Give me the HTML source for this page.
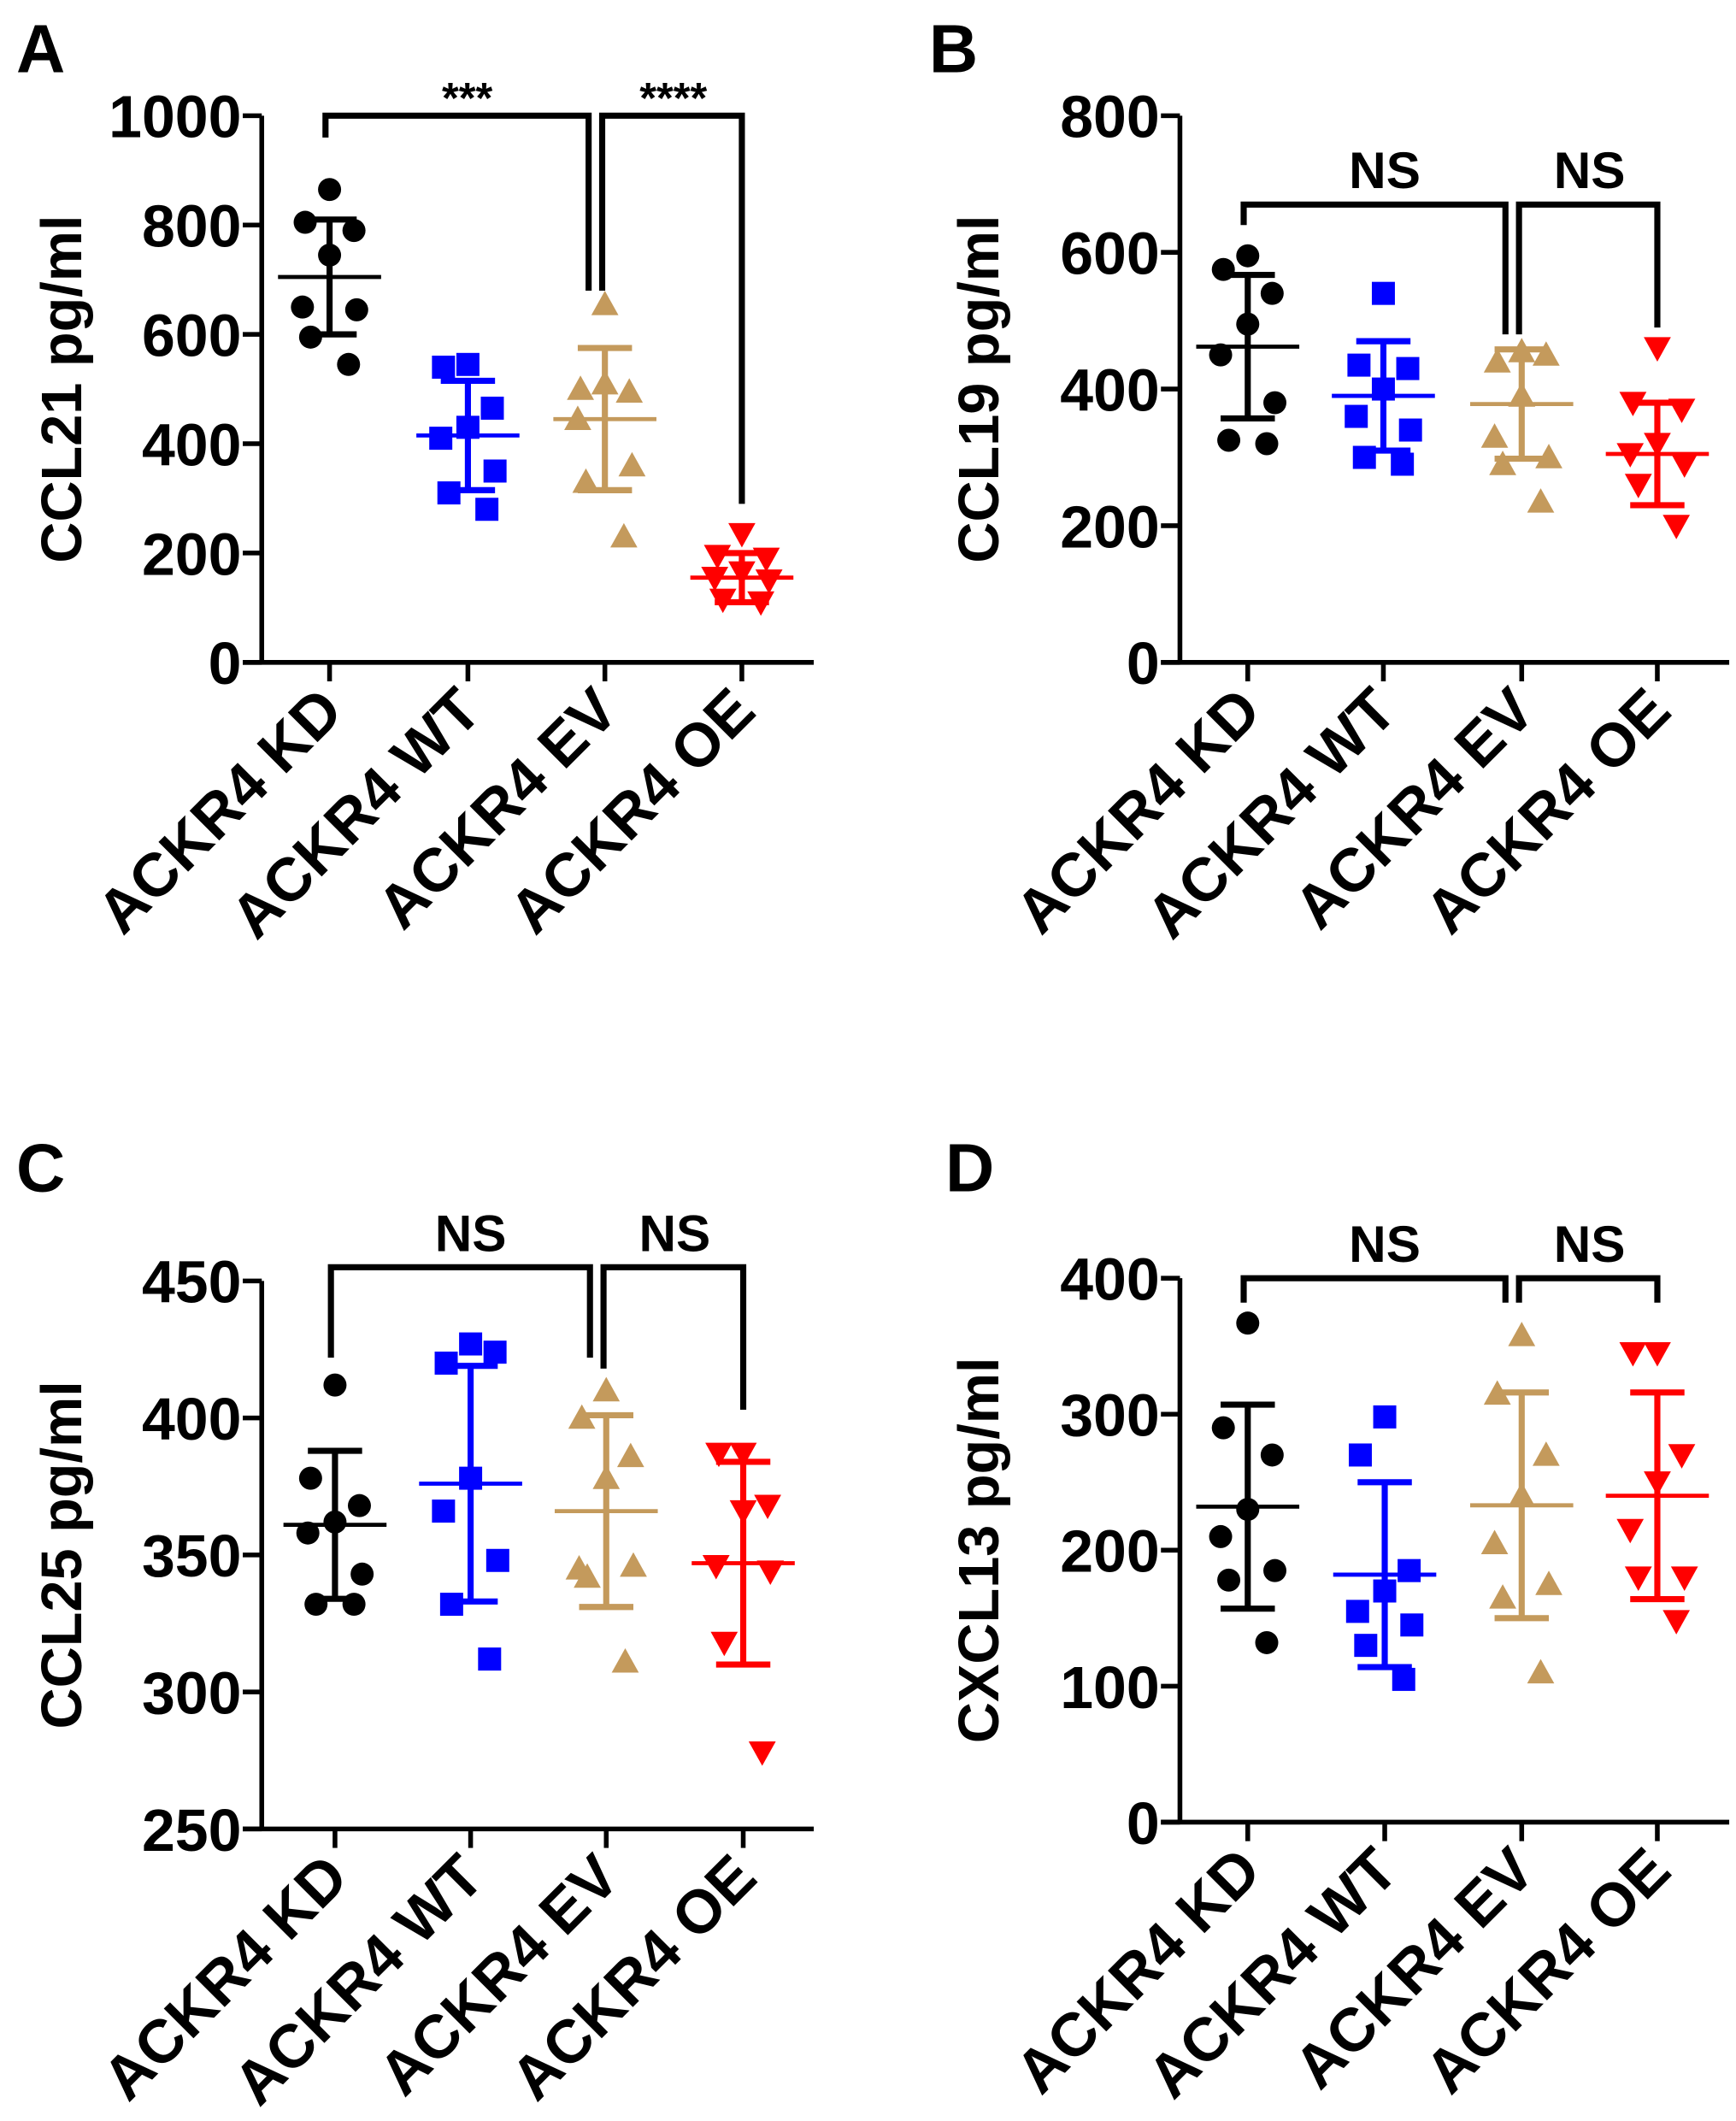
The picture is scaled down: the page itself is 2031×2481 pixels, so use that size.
<!DOCTYPE html>
<html><head><meta charset="utf-8"><style>
html,body{margin:0;padding:0;background:#fff}
svg{display:block}
text{font-family:"Liberation Sans",Arial,sans-serif;font-weight:bold;fill:#000}
</style></head><body>
<svg id="fig" width="2031" height="2481" viewBox="0 0 1280 1563" xmlns="http://www.w3.org/2000/svg"></svg>
<script>
const categories = ["ACKR4 KD","ACKR4 WT","ACKR4 EV","ACKR4 OE"];
const colors = ["#000000","#0000ff","#c49a5c","#ff0000"];
const shapes = ["circle","square","triangle","invtriangle"];
// Panel A
const aTicks = [0,200,400,600,800,1000];
const aKD = [865,805,790,745,650,645,595,545];
const aWT = [545,540,465,430,410,350,310,280];
const aEV = [655,500,495,510,445,360,330,230];
const aOE = [235,195,190,165,155,150,115,110];
const aMean = [705,415,445,155];
const aSD = [105,100,130,45];
const aSig = ["***","****"];
const aBracketTop = 1000;
const aBracketEnds = [960,680,680,290];
// Panel B
const bTicks = [0,200,400,600,800];
const bKD = [595,575,540,495,450,380,325,320];
const bWT = [540,435,430,400,360,340,300,290];
const bEV = [455,440,450,390,330,300,290,235];
const bOE = [460,380,370,320,305,290,260,200];
const bMean = [462,390,378,305];
const bSD = [105,80,80,75];
const bSig = ["NS","NS"];
const bBracketTop = 670;
const bBracketEnds = [640,480,480,490];
// Panel C
const cTicks = [250,300,350,400,450];
const cKD = [412,378,368,362,358,343,332,332];
const cWT = [427,420,424,378,366,348,332,312];
const cEV = [410,400,386,378,345,346,342,311];
const cOE = [387,387,368,366,346,344,318,278];
const cMean = [361,376,366,347];
const cSD = [27,43,35,37];
const cSig = ["NS","NS"];
const cBracketTop = 455;
const cBracketEnds = [422,422,418,403];
// Panel D
const dTicks = [0,100,200,300,400];
const dKD = [367,290,270,230,210,185,178,132];
const dWT = [298,270,185,170,155,145,130,105];
const dEV = [358,315,270,240,205,175,165,110];
const dOE = [345,345,270,250,215,180,180,148];
const dMean = [232,182,233,240];
const dSD = [75,68,83,76];
const dSig = ["NS","NS"];
const dBracketTop = 400;
const dBracketEnds = [382,382,382,382];

const panels = [
 {id:"a",letter:"A",ytitle:"CCL21 pg/ml",ticks:aTicks,series:[aKD,aWT,aEV,aOE],mean:aMean,sd:aSD,sig:aSig,btop:aBracketTop,bends:aBracketEnds,ax:193,y0:488,y1:85,xs:[243,345,446,547],xend:600,lx:12,ly:53,tx:60},
 {id:"b",letter:"B",ytitle:"CCL19 pg/ml",ticks:bTicks,series:[bKD,bWT,bEV,bOE],mean:bMean,sd:bSD,sig:bSig,btop:bBracketTop,bends:bBracketEnds,ax:870,y0:488,y1:85,xs:[920,1020,1122,1222],xend:1275,lx:685,ly:53,tx:736},
 {id:"c",letter:"C",ytitle:"CCL25 pg/ml",ticks:cTicks,series:[cKD,cWT,cEV,cOE],mean:cMean,sd:cSD,sig:cSig,btop:cBracketTop,bends:cBracketEnds,ax:193,y0:1348,y1:944,xs:[247,347,447,548],xend:600,lx:12,ly:878,tx:60},
 {id:"d",letter:"D",ytitle:"CXCL13 pg/ml",ticks:dTicks,series:[dKD,dWT,dEV,dOE],mean:dMean,sd:dSD,sig:dSig,btop:dBracketTop,bends:dBracketEnds,ax:870,y0:1343,y1:942,xs:[920,1021,1122,1222],xend:1275,lx:697,ly:878,tx:736}
];
const jitter = [0,-18,18,0,-20,20,-14,14];
const NS="http://www.w3.org/2000/svg";
const svg=document.getElementById('fig');
function mk(tag,attrs,parent){const e=document.createElementNS(NS,tag);for(const k in attrs)e.setAttribute(k,attrs[k]);(parent||svg).appendChild(e);return e;}
panels.forEach(p=>{
  const g=mk('g',{});
  
  
  const lo=p.ticks[0],hi=p.ticks[p.ticks.length-1];
  const y=v=>p.y0+(v-lo)/(hi-lo)*(p.y1-p.y0);
  const L=mk('text',{x:p.lx,y:p.ly,'font-size':50},g);L.textContent=p.letter;
  
  const ya=mk('line',{x1:p.ax,y1:p.y1,x2:p.ax,y2:p.y0,stroke:'#000','stroke-width':3.5},g);
  
  const xa=mk('line',{x1:p.ax-14,y1:p.y0,x2:p.xend,y2:p.y0,stroke:'#000','stroke-width':3.5},g);
  
  p.ticks.forEach(t=>{
    mk('line',{x1:p.ax-14,y1:y(t),x2:p.ax,y2:y(t),stroke:'#000','stroke-width':3.5},g);
    const tl=mk('text',{x:p.ax-15,y:y(t)+16,'font-size':44,'text-anchor':'end'},g);tl.textContent=t;
    
  });
  const yt=mk('text',{x:0,y:0,'font-size':42,'text-anchor':'middle',transform:`translate(${p.tx},${(p.y0+p.y1)/2}) rotate(-90)`},g);
  yt.textContent=p.ytitle;
  categories.forEach((c,i)=>{
    const cx=p.xs[i];
    mk('line',{x1:cx,y1:p.y0,x2:cx,y2:p.y0+14,stroke:'#000','stroke-width':3.5},g);
    const xl=mk('text',{x:0,y:0,'font-size':45,'text-anchor':'end',transform:`translate(${cx+12},${p.y0+38}) rotate(-45)`},g);
    xl.textContent=c;
    const col=colors[i];
    const sg=mk('g',{},g);
    
    
    p.series[i].forEach((v,j)=>{
      const px=cx+jitter[j],py=y(v);let m;
      if(shapes[i]==='circle')m=mk('circle',{cx:px,cy:py,r:8.5,fill:col},sg);
      else if(shapes[i]==='square')m=mk('rect',{x:px-8.5,y:py-8.5,width:17,height:17,fill:col},sg);
      else if(shapes[i]==='triangle')m=mk('polygon',{points:`${px},${py-10} ${px-10},${py+8} ${px+10},${py+8}`,fill:col},sg);
      else m=mk('polygon',{points:`${px},${py+10} ${px-10},${py-8} ${px+10},${py-8}`,fill:col},sg);
      
    });
    const mu=p.mean[i],s=p.sd[i];
    const eb=mk('line',{x1:cx,y1:y(mu+s),x2:cx,y2:y(mu-s),stroke:col,'stroke-width':4.5},sg);
    
    [mu+s,mu-s].forEach(v=>{const cp=mk('line',{x1:cx-20,y1:y(v),x2:cx+20,y2:y(v),stroke:col,'stroke-width':4.5},sg);
      });
    const ml=mk('line',{x1:cx-38,y1:y(mu),x2:cx+38,y2:y(mu),stroke:col,'stroke-width':3},sg);
    
  });
  const top=y(p.btop);
  const e=p.bends;
  const b1=mk('path',{d:`M${p.xs[0]-3},${y(e[0])} V${top} H${p.xs[2]-12} V${y(e[1])}`,fill:'none',stroke:'#000','stroke-width':4.5},g);
  
  const b2=mk('path',{d:`M${p.xs[2]-2},${y(e[2])} V${top} H${p.xs[3]} V${y(e[3])}`,fill:'none',stroke:'#000','stroke-width':4.5},g);
  
  const ns=p.sig[0]==='NS';
  const s1=mk('text',{x:(p.xs[0]+p.xs[2])/2,y:ns?top-12:top-2,'font-size':ns?38:32,'text-anchor':'middle'},g);
  s1.textContent=p.sig[0];
  const s2=mk('text',{x:(p.xs[2]+p.xs[3])/2,y:ns?top-12:top-2,'font-size':ns?38:32,'text-anchor':'middle'},g);
  s2.textContent=p.sig[1];
});
</script>
</body></html>
